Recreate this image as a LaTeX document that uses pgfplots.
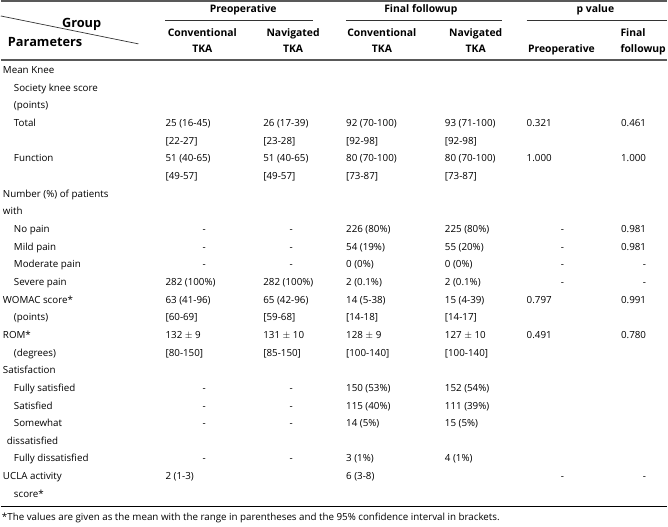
\documentclass[border=0pt]{standalone}
\usepackage{fontspec}
\setmainfont{Open Sans}
\usepackage{pgfplots}
\pgfplotsset{compat=1.18}
\newcommand\ry[1]{71+17.7*(#1)}
\newcommand\cl[3]{\node[anchor=west,inner sep=0pt,text height=7.4bp,text depth=2bp] at (axis cs:#1,{\ry{#2}}) {#3};}
\newcommand\cc[3]{\node[anchor=center,inner sep=0pt,text height=7.4bp,text depth=2bp] at (axis cs:#1,{\ry{#2}}) {#3};}
\newcommand\cre[3]{\node[anchor=east,inner sep=0pt,text height=7.4bp,text depth=2bp] at (axis cs:#1,{\ry{#2}}) {#3};}
\newcommand\hfont{\fontsize{10.4bp}{12bp}\selectfont\bfseries}
\newcommand\gfont{\fontsize{12.8bp}{14bp}\selectfont\bfseries}
\newcommand\hb[3]{\node[anchor=center,inner sep=0pt,text height=7.6bp,text depth=2bp,font=\hfont] at (axis cs:#1,#2) {#3};}
\begin{document}
\begin{tikzpicture}
\fontsize{9.8bp}{11bp}\selectfont
\begin{axis}[width=668bp,height=528bp,scale only axis,
  xmin=0,xmax=668,ymin=0,ymax=528,y dir=reverse,hide axis,clip=false]
\path (axis cs:0,0) rectangle (axis cs:668,528);
% rules
\draw[line width=1.6bp,black!65] (axis cs:0,1) -- (axis cs:668,1);
\draw[line width=1.6bp,black!65] (axis cs:0,60) -- (axis cs:668,60);
\draw[line width=1.3bp,black] (axis cs:0,508) -- (axis cs:668,508);
\draw[line width=0.7bp,black!80] (axis cs:0,16) -- (axis cs:138,44);
\draw[line width=0.7bp,black!80] (axis cs:165,20) -- (axis cs:313,20);
\draw[line width=0.7bp,black!80] (axis cs:346,20) -- (axis cs:502,20);
\draw[line width=0.7bp,black!80] (axis cs:527,20) -- (axis cs:668,20);
% header
\node[anchor=center,inner sep=0pt,text height=9.2bp,text depth=2.5bp,font=\gfont] at (axis cs:81,24) {Group};
\node[anchor=west,inner sep=0pt,text height=9.2bp,text depth=2.5bp,font=\gfont] at (axis cs:7,43) {Parameters};
\hb{243}{10}{Preoperative}
\hb{421}{10}{Final followup}
\hb{596}{10}{p value}
\hb{202}{34}{Conventional}\hb{202}{50}{TKA}
\hb{293}{34}{Navigated}\hb{293}{50}{TKA}
\hb{382}{34}{Conventional}\hb{382}{50}{TKA}
\hb{476}{34}{Navigated}\hb{476}{50}{TKA}
\hb{562}{50}{Preoperative}
\node[anchor=west,inner sep=0pt,text height=7.6bp,text depth=2bp,font=\hfont] at (axis cs:621,34) {Final};
\node[anchor=west,inner sep=0pt,text height=7.6bp,text depth=2bp,font=\hfont] at (axis cs:621,50) {followup};
% row labels
\cl{2}{0}{Mean Knee}
\cl{13}{1}{Society knee score}
\cl{13}{2}{(points)}
\cl{13}{3}{Total}
\cl{13}{5}{Function}
\cl{2}{7}{Number (\%) of patients}
\cl{2}{8}{with}
\cl{13}{9}{No pain}
\cl{13}{10}{Mild pain}
\cl{13}{11}{Moderate pain}
\cl{13}{12}{Severe pain}
\cl{2}{13}{WOMAC score*}
\cl{13}{14}{(points)}
\cl{2}{15}{ROM*}
\cl{13}{16}{(degrees)}
\cl{2}{17}{Satisfaction}
\cl{13}{18}{Fully satisfied}
\cl{13}{19}{Satisfied}
\cl{13}{20}{Somewhat}
\cl{6}{21}{dissatisfied}
\cl{13}{22}{Fully dissatisfied}
\cl{2}{23}{UCLA activity}
\cl{13}{24}{score*}
% column 1 (conventional preop)
\cl{165}{3}{25 (16-45)}\cl{165}{4}{[22-27]}
\cl{165}{5}{51 (40-65)}\cl{165}{6}{[49-57]}
\cc{204}{9}{-}\cc{204}{10}{-}\cc{204}{11}{-}
\cl{165}{12}{282 (100\%)}
\cl{165}{13}{63 (41-96)}\cl{165}{14}{[60-69]}
\cl{165}{15}{132 $\pm$ 9}\cl{165}{16}{[80-150]}
\cc{204}{18}{-}\cc{204}{19}{-}\cc{204}{20}{-}\cc{204}{22}{-}
\cl{165}{23}{2 (1-3)}
% column 2 (navigated preop)
\cl{263}{3}{26 (17-39)}\cl{263}{4}{[23-28]}
\cl{263}{5}{51 (40-65)}\cl{263}{6}{[49-57]}
\cc{291}{9}{-}\cc{291}{10}{-}\cc{291}{11}{-}
\cl{263}{12}{282 (100\%)}
\cl{263}{13}{65 (42-96)}\cl{263}{14}{[59-68]}
\cl{263}{15}{131 $\pm$ 10}\cl{263}{16}{[85-150]}
\cc{291}{18}{-}\cc{291}{19}{-}\cc{291}{20}{-}\cc{291}{22}{-}
% column 3 (conventional final)
\cl{346}{3}{92 (70-100)}\cl{346}{4}{[92-98]}
\cl{346}{5}{80 (70-100)}\cl{346}{6}{[73-87]}
\cl{346}{9}{226 (80\%)}\cl{346}{10}{54 (19\%)}\cl{346}{11}{0 (0\%)}\cl{346}{12}{2 (0.1\%)}
\cl{346}{13}{14 (5-38)}\cl{346}{14}{[14-18]}
\cl{346}{15}{128 $\pm$ 9}\cl{346}{16}{[100-140]}
\cl{346}{18}{150 (53\%)}\cl{346}{19}{115 (40\%)}\cl{346}{20}{14 (5\%)}\cl{346}{22}{3 (1\%)}
\cl{346}{23}{6 (3-8)}
% column 4 (navigated final)
\cl{445}{3}{93 (71-100)}\cl{445}{4}{[92-98]}
\cl{445}{5}{80 (70-100)}\cl{445}{6}{[73-87]}
\cl{445}{9}{225 (80\%)}\cl{445}{10}{55 (20\%)}\cl{445}{11}{0 (0\%)}\cl{445}{12}{2 (0.1\%)}
\cl{445}{13}{15 (4-39)}\cl{445}{14}{[14-17]}
\cl{445}{15}{127 $\pm$ 10}\cl{445}{16}{[100-140]}
\cl{445}{18}{152 (54\%)}\cl{445}{19}{111 (39\%)}\cl{445}{20}{15 (5\%)}\cl{445}{22}{4 (1\%)}
% column 5 (p preop)
\cl{527}{3}{0.321}\cl{527}{5}{1.000}
\cc{563}{9}{-}\cc{563}{10}{-}\cc{563}{11}{-}\cc{563}{12}{-}
\cl{527}{13}{0.797}\cl{527}{15}{0.491}
\cc{563}{23}{-}
% column 6 (p final)
\cre{647}{3}{0.461}\cre{647}{5}{1.000}
\cre{647}{9}{0.981}\cre{647}{10}{0.981}\cre{647}{11}{-}\cre{647}{12}{-}
\cre{647}{13}{0.991}\cre{647}{15}{0.780}
\cre{647}{23}{-}
% footnote
\node[anchor=west,inner sep=0pt,text height=7.4bp,text depth=2bp] at (axis cs:1,519) {*The values are given as the mean with the range in parentheses and the 95\% confidence interval in brackets.};
\end{axis}
\end{tikzpicture}
\end{document}
